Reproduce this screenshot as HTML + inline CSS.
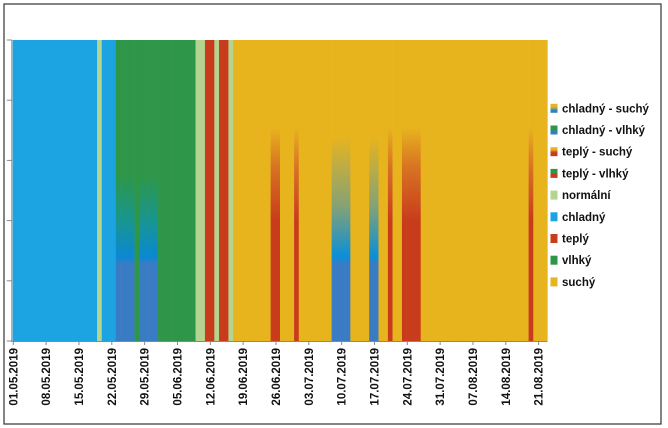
<!DOCTYPE html>
<html><head><meta charset="utf-8"><style>
body{margin:0;background:#fff;}
svg{display:block;font-family:"Liberation Sans","DejaVu Sans",sans-serif;}
</style></head><body>
<svg id="chart" width="668" height="428">
<defs>
<linearGradient id="g-cs" x1="0" y1="0" x2="0" y2="1">
<stop offset="0" stop-color="#e8b41e"/><stop offset="0.32" stop-color="#e8b41e"/><stop offset="0.55" stop-color="#86a274"/><stop offset="0.72" stop-color="#0a8fd8"/><stop offset="0.745" stop-color="#3a7cc4"/><stop offset="1" stop-color="#3a7cc4"/></linearGradient>
<linearGradient id="g-cv" x1="0" y1="0" x2="0" y2="1">
<stop offset="0" stop-color="#2e9648"/><stop offset="0.45" stop-color="#2e9648"/><stop offset="0.6" stop-color="#189690"/><stop offset="0.72" stop-color="#0a88d2"/><stop offset="0.745" stop-color="#3a7cc4"/><stop offset="1" stop-color="#3a7cc4"/></linearGradient>
<linearGradient id="g-ts" x1="0" y1="0" x2="0" y2="1">
<stop offset="0" stop-color="#e8b41e"/><stop offset="0.29" stop-color="#e8b41e"/><stop offset="0.42" stop-color="#d87422"/><stop offset="0.6" stop-color="#c83c1c"/><stop offset="1" stop-color="#c83c1c"/></linearGradient>
<linearGradient id="g-tv" x1="0" y1="0" x2="0" y2="1">
<stop offset="0" stop-color="#2e9648"/><stop offset="0.45" stop-color="#2e9648"/><stop offset="0.6" stop-color="#c83c1c"/><stop offset="1" stop-color="#c83c1c"/></linearGradient>
</defs>
<rect x="4" y="4" width="657" height="420" fill="none" stroke="#333" stroke-width="1.2"/>
<g id="plot"></g>
<g id="axes"></g>
<g id="legend"></g>
</svg>
<script>
// category per day, starting 01.05.2019 (0 suchý,1 vlhký,2 teplý,3 chladný,4 normální,5 teplý-vlhký,6 teplý-suchý,7 chladný-vlhký,8 chladný-suchý)
const categoryNames=["suchý","vlhký","teplý","chladný","normální","teplý - vlhký","teplý - suchý","chladný - vlhký","chladný - suchý"];
const categoryFills=["#e8b41e","#2e9648","#c83c1c","#1ba3e2","#b5d48f","url(#g-tv)","url(#g-ts)","url(#g-cv)","url(#g-cs)"];
const legendOrder=[8,7,6,5,4,3,2,1,0];
const dayCategories=[
3,3,3,3,3,3,3,3,3,3,3,3,3,3,3,3,3,3, 4, 3,3,3, 7,7,7,7, 1, 7,7,7,7,
1,1,1,1,1,1,1,1, 4,4, 2,2, 4, 2,2, 4,
0,0,0,0,0,0,0,0, 6,6, 0,0,0, 6, 0,0,0,0,0,0,0, 8,8,8,8, 0,0,0,0, 8,8, 0,0, 6, 0,0, 6,6,6,6,
0,0,0,0,0,0,0,0,0,0,0,0,0,0,0,0,0,0,0,0,0,0,0, 6, 0,0,0
];
const tickLabels=["01.05.2019","08.05.2019","15.05.2019","22.05.2019","29.05.2019","05.06.2019","12.06.2019","19.06.2019","26.06.2019","03.07.2019","10.07.2019","17.07.2019","24.07.2019","31.07.2019","07.08.2019","14.08.2019","21.08.2019"];
const tickDays=[0,7,14,21,28,35,42,49,56,63,70,77,84,91,98,105,112];
const yTickValues=[0,1,2,3,4,5];

const NS="http://www.w3.org/2000/svg";
const L=12.8,R=547.5,T=40,B=341;
const dw=(R-L)/dayCategories.length;
const xs=d=>L+d*dw;
const ys=v=>B-(B-T)*v/5;
function mk(t,a,p){const e=document.createElementNS(NS,t);for(const k in a)e.setAttribute(k,a[k]);p.appendChild(e);return e;}
const plot=document.getElementById('plot'),axes=document.getElementById('axes'),leg=document.getElementById('legend');
dayCategories.forEach((c,i)=>{
 const r=mk('rect',{x:xs(i)-0.15,y:ys(5),width:dw+0.3,height:ys(0)-ys(5),fill:categoryFills[c]},plot);
 
 
});
const yl=mk('line',{x1:L-1,y1:T,x2:L-1,y2:B+1,stroke:'#888','stroke-width':1},axes);


yTickValues.forEach(v=>{const t=mk('line',{x1:L-6,y1:ys(v),x2:L-1,y2:ys(v),stroke:'#888'},axes);
 
 });
const xl=mk('line',{x1:L-1,y1:B+0.5,x2:R,y2:B+0.5,stroke:'#888'},axes);


tickDays.forEach((d,i)=>{
 const x=xs(d)+0.5;
 const t=mk('line',{x1:x,y1:B,x2:x,y2:B+4,stroke:'#888'},axes);
 
 
 const tx=mk('text',{x:0,y:0,transform:`translate(${x+4},${B+7}) rotate(-90)`,'text-anchor':'end','font-size':'11.5','font-weight':'bold',fill:'#111'},axes);
 tx.textContent=tickLabels[i];
 
 
});
legendOrder.forEach((c,i)=>{
 const y=108.3+i*21.7;
 const g=mk('g',{},leg);
 
 
 mk('rect',{x:550.5,y:y-4.5,width:7,height:9,fill:categoryFills[c]},g);
 const t=mk('text',{x:562,y:y+4,'font-size':'11.5','font-weight':'bold',fill:'#111'},g);
 t.textContent=categoryNames[c];
});
</script>
</body></html>
